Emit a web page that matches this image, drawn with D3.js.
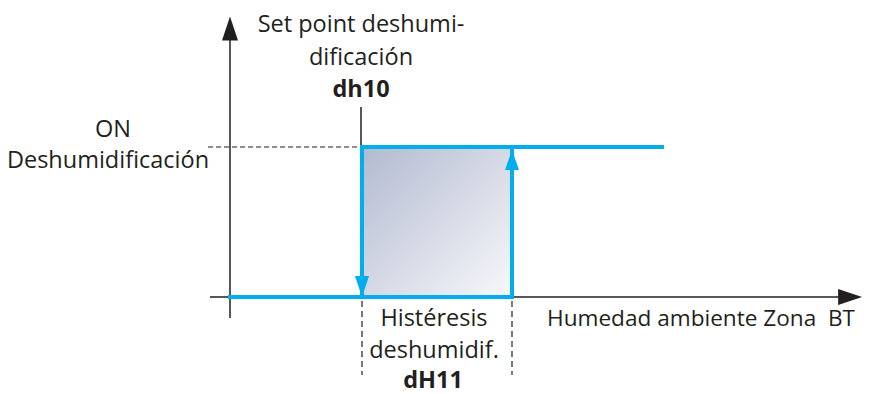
<!DOCTYPE html>
<html><head><meta charset="utf-8">
<script src="https://cdn.jsdelivr.net/npm/d3@7"></script>
<style>body{margin:0;background:#fff}svg{display:block}text{font-family:"Open Sans",sans-serif;fill:#231f20}</style>
</head><body>
<svg id="c" width="877" height="394"></svg>
<script>
// abstract humidity units (x) and state (y: 0 = OFF, 1 = ON)
const setPoint = 4.4;          // dh10
const hysteresis = 5.0;        // dH11
const lineEnd = 14.4;
const xAxisDomain = [-0.67, 21.07];
const yAxisDomain = [-0.14, 1.87];
const risingPath = [[0,0],[setPoint+hysteresis,0],[setPoint+hysteresis,1]];
const onPath = [[setPoint,1],[lineEnd,1]];
const fallingPath = [[setPoint,1],[setPoint,0]];
const topLabel = ["Set point deshumi-","dificación"];
const topCode = "dh10";
const yLabel = ["ON","Deshumidificación"];
const bottomLabel = ["Histéresis","deshumidif."];
const bottomCode = "dH11";
const xLabel = "Humedad ambiente Zona\u00a0 BT";

const svg = d3.select("#c");
const x = d3.scaleLinear().domain([0,21]).range([230,860]);
const y = d3.scaleLinear().domain([0,1]).range([297,147]);
const line = d3.line().x(d=>x(d[0])).y(d=>y(d[1]));

const defs = svg.append("defs");
const g = defs.append("linearGradient").attr("id","grad").attr("x1","0").attr("y1","0").attr("x2","1").attr("y2","1");
g.append("stop").attr("offset","0").attr("stop-color","#b2bad0");
g.append("stop").attr("offset","1").attr("stop-color","#f8f8fb");

// shaded hysteresis area
svg.append("rect").attr("x",x(setPoint)).attr("y",y(1))
  .attr("width",x(setPoint+hysteresis)-x(setPoint)).attr("height",y(0)-y(1))
  .attr("fill","url(#grad)");

// axes
svg.append("line").attr("x1",x(xAxisDomain[0])).attr("x2",x(xAxisDomain[1])-20)
  .attr("y1",y(0)).attr("y2",y(0)).attr("stroke","#231f20").attr("stroke-width",1.5);
svg.append("path").attr("d",`M${x(xAxisDomain[1])},${y(0)} L${x(xAxisDomain[1])-24},${y(0)-8} L${x(xAxisDomain[1])-24},${y(0)+8}Z`).attr("fill","#231f20");
svg.append("line").attr("x1",x(0)).attr("x2",x(0))
  .attr("y1",y(yAxisDomain[0])).attr("y2",y(yAxisDomain[1])+20).attr("stroke","#231f20").attr("stroke-width",1.5);
svg.append("path").attr("d",`M${x(0)},${y(yAxisDomain[1])} L${x(0)-8},${y(yAxisDomain[1])+24} L${x(0)+8},${y(yAxisDomain[1])+24}Z`).attr("fill","#231f20");

// dashed guides
svg.append("line").attr("x1",208).attr("x2",x(setPoint)).attr("y1",y(1)).attr("y2",y(1))
  .attr("stroke","#231f20").attr("stroke-width",1.2).attr("stroke-dasharray","5,3");
[setPoint, setPoint+hysteresis].forEach(v=>{
  svg.append("line").attr("x1",x(v)).attr("x2",x(v)).attr("y1",y(0)+4).attr("y2",375)
    .attr("stroke","#231f20").attr("stroke-width",1.2).attr("stroke-dasharray","6,4");
});
// set point tick
svg.append("line").attr("x1",x(setPoint)-1).attr("x2",x(setPoint)-1).attr("y1",107).attr("y2",y(1))
  .attr("stroke","#231f20").attr("stroke-width",1.5);

// blue lines
const blue = "#00aeef";
[risingPath, onPath, fallingPath].forEach(p=>{
  svg.append("path").attr("d",line(p)).attr("fill","none").attr("stroke",blue)
    .attr("stroke-width",4).attr("stroke-linejoin","miter").attr("stroke-linecap","square");
});
// arrowheads
const ax1 = x(setPoint+hysteresis), ay1 = y(1)+3;
svg.append("path").attr("d",`M${ax1},${ay1} L${ax1-7},${ay1+20} L${ax1+7},${ay1+20}Z`).attr("fill",blue);
const ax2 = x(setPoint), ay2 = y(0);
svg.append("path").attr("d",`M${ax2},${ay2} L${ax2-7},${ay2-21} L${ax2+7},${ay2-21}Z`).attr("fill",blue);

// texts
const fs = 23.5;
topLabel.forEach((t,i)=>svg.append("text").attr("x",361).attr("y",32+i*33).attr("text-anchor","middle").attr("font-size",fs).text(t));
svg.append("text").attr("x",361).attr("y",97).attr("text-anchor","middle").attr("font-size",fs).attr("font-weight","bold").text(topCode);
svg.append("text").attr("x",113).attr("y",137).attr("text-anchor","middle").attr("font-size",fs).text(yLabel[0]);
svg.append("text").attr("x",108).attr("y",168).attr("text-anchor","middle").attr("font-size",23.5).text(yLabel[1]);
bottomLabel.forEach((t,i)=>svg.append("text").attr("x",434).attr("y",326+i*32).attr("text-anchor","middle").attr("font-size",fs).text(t));
svg.append("text").attr("x",433).attr("y",388).attr("text-anchor","middle").attr("font-size",fs).attr("font-weight","bold").text(bottomCode);
svg.append("text").attr("x",547).attr("y",326).attr("font-size",22.6).text(xLabel);
</script>
</body></html>
